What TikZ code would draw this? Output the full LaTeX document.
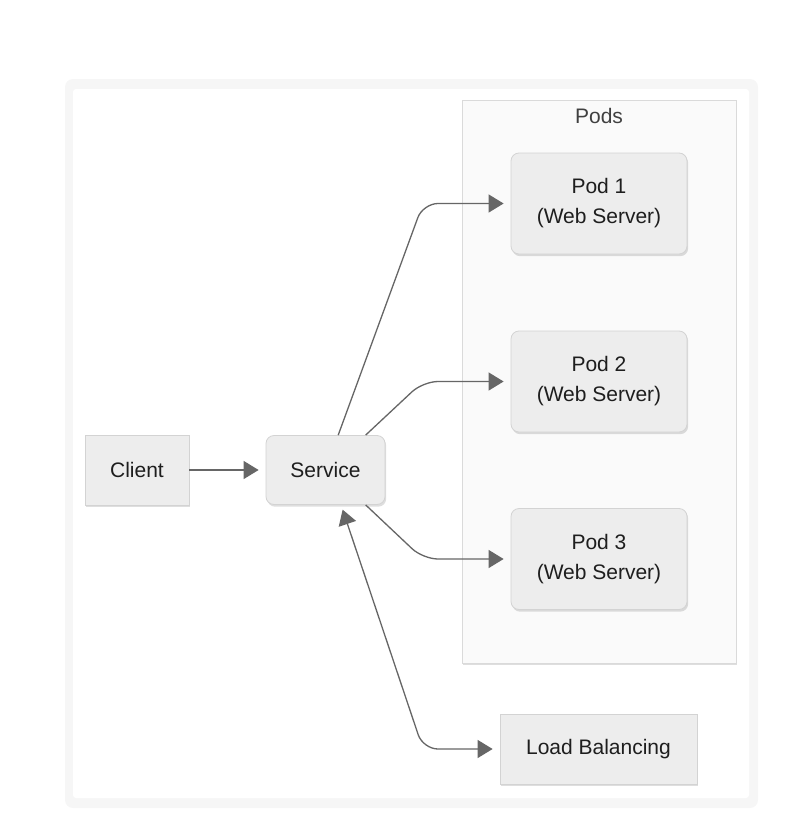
\documentclass[tikz,border=0pt]{standalone}
\usepackage{fontspec}
\setmainfont{Liberation Sans}
\usepackage{tikz}
\usetikzlibrary{arrows.meta}
\usetikzlibrary{shadows}
\definecolor{boxfill}{HTML}{EDEDED}
\definecolor{boxline}{HTML}{D3D3D3}
\definecolor{podsfill}{HTML}{FAFAFA}
\definecolor{podsline}{HTML}{DADADA}
\definecolor{wirecol}{HTML}{666666}
\definecolor{band}{HTML}{F6F6F6}
\definecolor{ink}{HTML}{1E1E1E}
\definecolor{podsink}{HTML}{404040}

\begin{document}
\begin{tikzpicture}[x=1pt,y=-1pt,
 plainbox/.style={rectangle,draw=boxline,fill=boxfill,line width=0.8pt,inner sep=0pt,text=ink,
   font=\fontsize{21}{30}\selectfont,align=center,
   drop shadow={shadow xshift=1.2pt,shadow yshift=-2.2pt,fill=black,opacity=0.13}},
 roundbox/.style={plainbox,rounded corners=8pt},
 link/.style={draw=wirecol,line width=1.3pt,rounded corners=15pt,-{Triangle[length=15pt,width=18pt]},shorten >=7pt}]

 \useasboundingbox (0,0) rectangle (787,822);
 \fill[band,rounded corners=8pt] (65,79) rectangle (758,808);
 \fill[white,rounded corners=3pt] (73,89) rectangle (749,798);

 \node at (599,381.5) [rectangle,draw=podsline,fill=podsfill,line width=0.8pt,minimum width=274pt,minimum height=563pt,
   drop shadow={shadow xshift=1.2pt,shadow yshift=-2.2pt,fill=black,opacity=0.13}] (pods) {};
 \node at (599,116) [text=podsink,font=\fontsize{21}{25}\selectfont] (podstitle) {Pods};

 \node at (137,470) [plainbox,minimum width=104pt,minimum height=70pt] (client) {Client};
 \node at (325.5,470) [roundbox,minimum width=119pt,minimum height=69pt] (service) {Service};
 \node at (599,203.5) [roundbox,minimum width=176pt,minimum height=101pt] (pod1) {Pod 1\\(Web Server)};
 \node at (599,381.5) [roundbox,minimum width=176pt,minimum height=101pt] (pod2) {Pod 2\\(Web Server)};
 \node at (599,559) [roundbox,minimum width=176pt,minimum height=101pt] (pod3) {Pod 3\\(Web Server)};
 \node at (598.5,749) [plainbox,minimum width=197pt,minimum height=70pt] (lb) {Load Balancing};

 \coordinate (bend) at (423,470);

 \draw[link] (client.east)--(service.west);
 \draw[link] (service.70)--(bend |- pod1.west)--(pod1.west);
 \draw[link] (service.41)--(bend |- pod2.west)--(pod2.west);
 \draw[link] (service.-41)--(bend |- pod3.west)--(pod3.west);
 \draw[link,{Triangle[length=15pt,width=18pt]}-{Triangle[length=15pt,width=18pt]},shorten <=5pt] (service.-66)--(bend |- lb.west)--(lb.west);
\end{tikzpicture}
\end{document}
